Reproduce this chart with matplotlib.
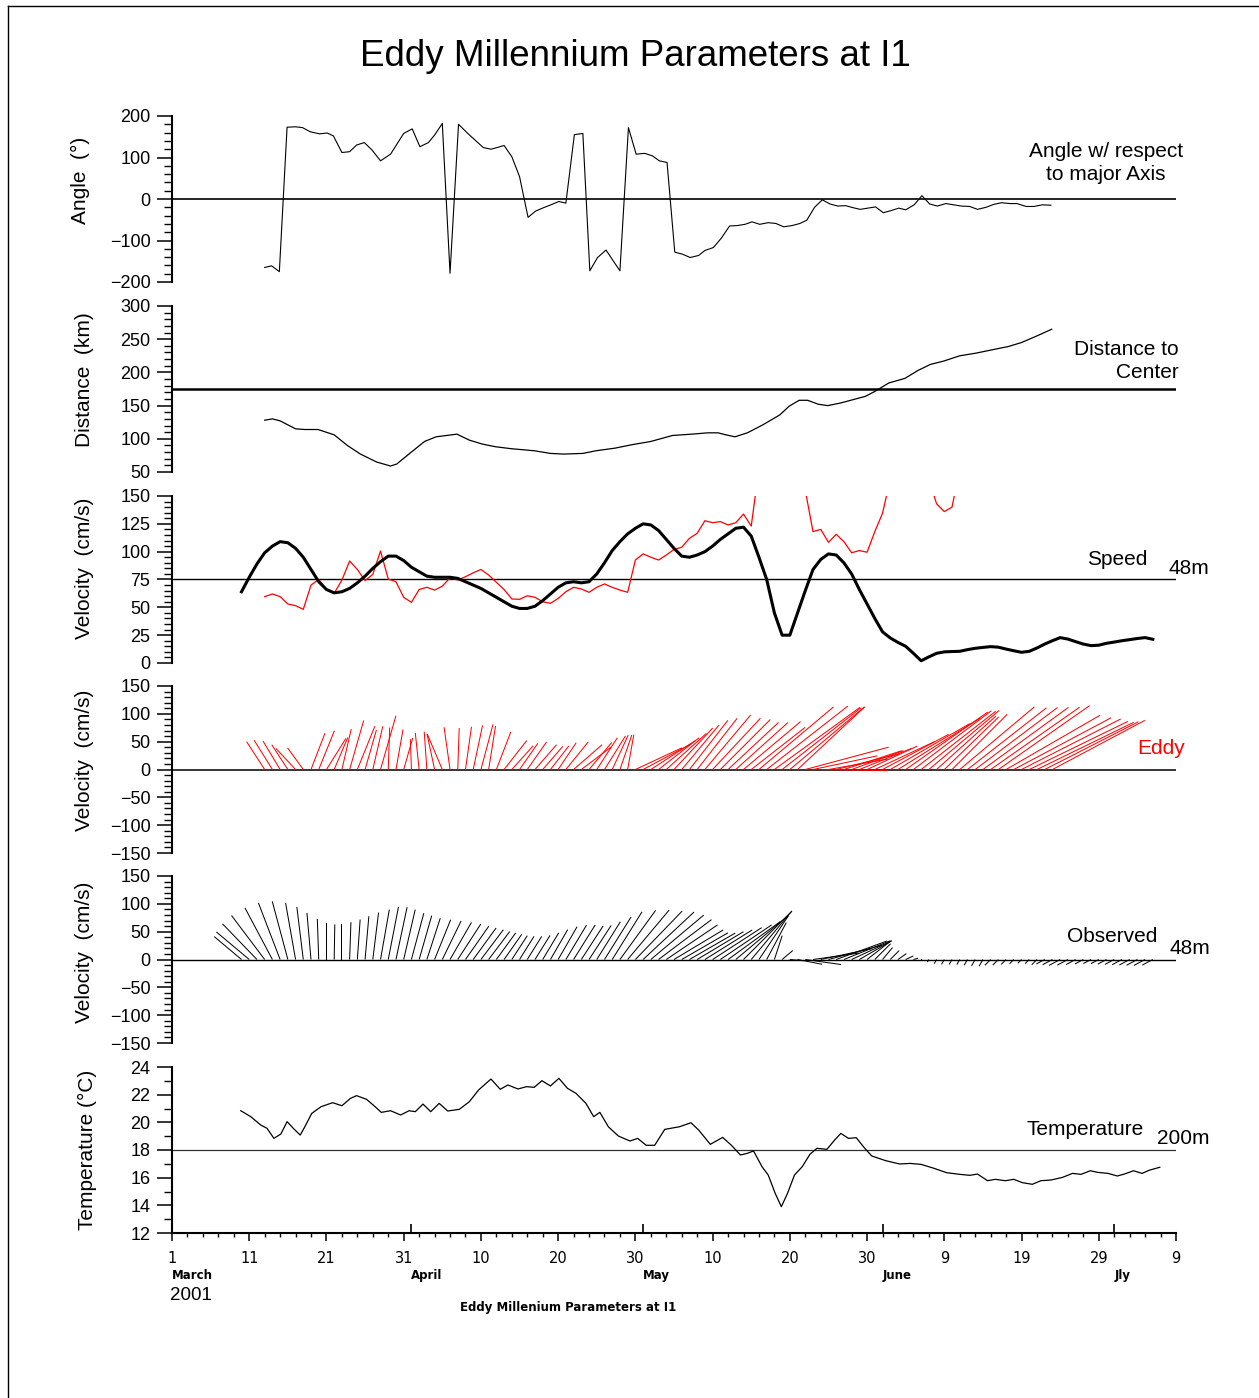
import matplotlib.pyplot as plt
import numpy as np
from matplotlib.lines import Line2D
from matplotlib.ticker import MultipleLocator

plt.rcParams['font.family'] = ['Liberation Sans', 'DejaVu Sans']

# ---- data, x = days since 1 March 2001 ----
angle_days = [12.0, 12.9, 13.9, 14.9, 16.0, 16.9, 17.9, 19.1, 20.1, 20.9, 22.0, 23.0, 23.9, 24.9,
              25.9, 27.0, 28.3, 30.0, 31.1, 32.1, 33.2, 34.0, 35.0, 36.0, 37.1, 38.3, 40.3, 41.3,
              42.1, 43.0, 44.0, 45.0, 46.1, 47.1, 48.1, 49.2, 50.1, 51.0, 52.1, 53.2, 54.1, 55.1,
              56.2, 57.2, 58.0, 59.1, 60.1, 61.2, 62.2, 63.1, 64.1, 65.1, 66.1, 67.1, 68.2, 69.0,
              70.1, 71.1, 72.2, 73.2, 74.2, 75.1, 76.1, 77.2, 78.2, 79.2, 80.3, 81.3, 82.2, 83.2,
              84.2, 85.2, 86.2, 87.2, 88.2, 89.1, 90.1, 91.1, 92.1, 93.1, 94.1, 95.0, 96.1, 97.1,
              98.1, 99.1, 100.2, 101.2, 102.2, 103.3, 104.3, 105.4, 106.4, 107.4, 108.5, 109.4,
              110.6, 111.6, 112.7, 113.8]
angle_deg = [-165, -161, -175, 173, 174, 172, 162, 157, 159, 152, 112, 114, 130, 136,
             118, 92, 108, 158, 169, 126, 136, 154, 182, -179, 180, 158, 124, 120,
             124, 129, 102, 54, -44, -29, -21, -13, -6, -10, 155, 158, -173, -141,
             -123, -151, -173, 172, 108, 110, 104, 92, 88, -128, -133, -141, -136, -124,
             -117, -95, -65, -64, -61, -55, -61, -57, -59, -67, -64, -59, -51, -20,
             -2, -12, -17, -16, -21, -25, -22, -19, -33, -28, -22, -26, -14, 8,
             -12, -17, -11, -14, -17, -18, -25, -20, -13, -9, -11, -11,
             -18, -18, -14, -15]

dist_days = [12.0, 13.0, 14.0, 16.0, 17.2, 18.9, 21.0, 22.7, 24.4, 26.5, 28.3, 29.1, 31.1, 32.7,
             34.2, 36.9, 38.5, 40.2, 41.9, 44.0, 46.9, 49.0, 50.7, 53.2, 54.9, 57.4, 59.5, 62.0,
             64.8, 67.3, 69.4, 70.7, 71.7, 72.9, 74.5, 76.5, 78.7, 79.9, 81.2, 82.3, 83.7, 84.9,
             86.6, 88.2, 89.8, 91.1, 92.8, 94.9, 96.6, 98.2, 99.9, 102.0, 104.1, 106.6, 108.3,
             110.0, 112.0, 113.9]
dist_km = [128, 130, 127, 115, 114, 114, 106, 90, 77, 65, 59, 62, 81, 96,
           103, 107, 98, 92, 88, 85, 82, 78, 77, 78, 82, 86, 91, 96,
           105, 107, 109, 109, 106, 103, 109, 121, 136, 149, 158, 158, 152, 150,
           154, 159, 164, 172, 184, 191, 203, 212, 217, 225, 229, 235, 239,
           245, 255, 265]

# eddy (model) velocity, daily, days 12..114
eddy_days = list(range(12, 115))
eddy_speed = [59.6, 62, 59.6, 53, 51.5, 48.2, 70, 75, 66, 62.6,
              74.5, 91.6, 84, 74, 79.6, 100.6, 75.4, 73, 59, 54.5,
              66, 68, 65.5, 69, 76.6, 74.5, 77.5, 81, 84, 79,
              72.5, 66, 57.5, 57.2, 60.4, 59, 55, 53.6, 58, 64,
              68, 66.5, 63.5, 68, 71, 68, 65.5, 63.5, 92.5, 98,
              95, 92.5, 97, 102, 104, 112, 116.5, 127.8, 126, 127,
              124, 126, 133.8, 123, 175, 185, 190, 180, 175, 165,
              155, 118, 120, 108.4, 115.6, 109, 99, 101, 99.5, 118,
              134.5, 165, 175, 180, 175, 170, 165, 143, 136, 140,
              175, 180, 185, 190, 195, 200, 195, 198, 200, 197,
              193, 189, 188]
eddy_dir = [123, 122, 121, 123, 133, 126, 69, 68, 58, 67,
            77, 74, 68, 74, 77, 74, 88, 80, 74, 92,
            96, 94, 102, 113, 98, 88, 82, 78, 75, 81,
            69, 52, 48, 55, 55, 49, 49, 52, 56, 51,
            41, 37, 50, 57, 58, 65, 71, 80, 25, 28,
            33, 38, 42, 47, 50, 52, 52, 50, 47, 45,
            43, 42, 40, 38, 40, 38, 36, 38, 40, 43,
            15, 12, -1, 10, 14, 18, 20, 22, 25, 25,
            28, 30, 32, 35, 37, 38, 40, 42, 44, 45,
            40, 38, 37, 36, 35, 35, 30, 28, 27, 26,
            26, 27, 28]

# observed velocity at 48 m, daily, days 9..127
obs_days = list(range(9, 128))
obs_speed = [64, 77, 89, 99, 105, 109, 108, 103, 95, 84,
             73, 66, 63, 64, 67, 72, 78, 85, 91, 96,
             96, 92, 86, 82, 78, 77, 77, 77, 76, 73,
             70, 67, 63, 59, 55, 51, 49, 49, 51, 56,
             62, 68, 72, 73, 72, 73, 80, 90, 101, 109,
             116, 121, 125, 124, 119, 111, 103, 96, 95, 97,
             100, 105, 111, 116, 121, 122, 114, 95, 75, 45,
             25, 25, 45, 65, 84, 93, 98, 97, 90, 80,
             66, 53, 40, 28, 22.5, 18.5, 15, 8.7, 2, 5.5,
             8.7, 10, 10.3, 10.5, 12, 13.2, 14, 14.7, 14.2, 12.5,
             11, 9.6, 10.5, 13.5, 17, 20, 22.8, 21.5, 19.2, 17,
             15.6, 16, 17.7, 18.8, 20, 21, 22, 22.8, 21.3]
obs_dir = [140, 140, 134, 127, 118, 111, 105, 100, 97, 95,
           92, 90, 89, 90, 88, 86, 85, 83, 80, 79,
           78, 77, 75, 74, 72, 68, 64, 60, 57, 55,
           54, 53, 53, 54, 55, 57, 58, 58, 58, 59,
           60, 60, 59, 58, 57, 57, 58, 58, 58, 54,
           50, 46, 43, 40, 37, 34, 31, 30, 30, 31,
           32, 33, 34, 36, 40, 45, 50, 56, 62, 72,
           40, -5, -11, -8, 8, 12, 15, 20, 22, 25,
           30, 38, 45, 50, 45, 35, 25, 15, 0, 240,
           240, 240, 240, 240, 240, 240, 240, 225, 225, 225,
           225, 225, 225, 225, 208, 208, 208, 208, 208, 208,
           208, 208, 208, 208, 208, 208, 208, 208, 208]

temp_days = [8.9, 10.2, 11.5, 12.3, 13.2, 14.1, 14.9, 15.7, 16.6, 17.2, 18.1, 19.3, 20.8, 22.0,
             23.1, 23.9, 25.2, 26.3, 27.1, 28.3, 29.6, 30.7, 31.5, 32.5, 33.5, 34.6, 35.7, 37.2,
             38.5, 39.7, 41.3, 42.5, 43.5, 44.8, 45.9, 46.9, 47.9, 49.0, 50.1, 51.2, 52.3, 53.6,
             54.6, 55.4, 56.5, 57.8, 59.3, 60.3, 61.4, 62.5, 63.8, 65.7, 67.2, 68.2, 69.7, 71.3,
             72.4, 73.6, 74.5, 75.3, 76.4, 77.2, 78.1, 78.9, 79.7, 80.6, 81.6, 82.6, 83.5, 84.8,
             85.8, 86.6, 87.6, 88.6, 89.6, 90.6, 92.4, 94.2, 95.6, 97.0, 98.7, 100.3, 102.0,
             103.3, 104.3, 105.6, 106.6, 107.9, 109.0, 110.1, 111.4, 112.5, 113.8, 115.3, 116.6,
             117.7, 118.9, 119.9, 121.2, 122.4, 123.3, 124.5, 125.6, 126.6, 127.9]
temp_c = [20.84, 20.41, 19.8, 19.57, 18.84, 19.16, 20.05, 19.57, 19.08, 19.68, 20.65, 21.13, 21.42, 21.2,
          21.73, 21.93, 21.66, 21.13, 20.72, 20.84, 20.53, 20.84, 20.77, 21.32, 20.77, 21.37, 20.82, 20.94,
          21.49, 22.34, 23.13, 22.39, 22.70, 22.41, 22.58, 22.53, 23.01, 22.63, 23.18, 22.46, 22.10, 21.37,
          20.41, 20.72, 19.68, 19.01, 18.65, 18.84, 18.34, 18.34, 19.49, 19.68, 19.97, 19.44, 18.41, 18.91,
          18.36, 17.64, 17.76, 17.93, 16.79, 16.19, 14.87, 13.9, 14.87, 16.19, 16.79, 17.69, 18.12, 18.05,
          18.72, 19.20, 18.84, 18.89, 18.19, 17.57, 17.23, 16.99, 17.03, 16.96, 16.67, 16.36, 16.24,
          16.17, 16.26, 15.78, 15.88, 15.78, 15.88, 15.64, 15.52, 15.78, 15.83, 16.02, 16.31,
          16.24, 16.50, 16.38, 16.31, 16.12, 16.26, 16.50, 16.31, 16.55, 16.75]

tick_days = [0, 10, 20, 30, 40, 50, 60, 70, 80, 90, 100, 110, 120, 130]
tick_labels = ['1', '11', '21', '31', '10', '20', '30', '10', '20', '30', '9', '19', '29', '9']
month_days = [0, 31, 61, 92, 122]
month_names = ['March', 'April', 'May', 'June', 'Jly']

# ---- figure ----
W, H = 1259, 1398
fig = plt.figure(figsize=(W / 100, H / 100), dpi=100)


def make_panel(top, bottom, ylim, major, minor):
    ax = fig.add_axes([172 / W, 1 - bottom / H, 1004 / W, (bottom - top) / H])
    ax.set_xlim(0, 130)
    ax.set_ylim(*ylim)
    for s in ['top', 'right', 'bottom']:
        ax.spines[s].set_visible(False)
    ax.spines['left'].set_linewidth(1.5)
    ax.yaxis.set_major_locator(MultipleLocator(major))
    ax.yaxis.set_minor_locator(MultipleLocator(minor))
    ax.tick_params(axis='y', which='major', direction='out', length=10.5, width=1.1,
                   labelsize=13, pad=5)
    ax.tick_params(axis='y', which='minor', direction='out', length=5.5, width=1.0)
    ax.tick_params(axis='x', which='both', bottom=False, labelbottom=False)
    return ax


def sticks(ax, days, speed, direction, color):
    sp = np.array(speed, dtype=float)
    th = np.radians(direction)
    u = sp * np.cos(th)
    v = sp * np.sin(th)
    ax.quiver(days, np.zeros(len(days)), u, v, color=color, angles='uv',
              scale_units='y', scale=1, units='dots', width=1.0,
              headwidth=0, headlength=0, headaxislength=0, zorder=3)


# Angle panel
ax1 = make_panel(116, 282, (-200, 200), 100, 20)
ax1.axhline(0, color='black', lw=1.2)
ax1.plot(angle_days, angle_deg, color='black', lw=0.8)
ax1.text(120.9, 87, 'Angle w/ respect\nto major Axis', ha='center', va='center',
         fontsize=15, multialignment='center', linespacing=1.25)

# Distance panel
ax2 = make_panel(306, 472, (50, 300), 50, 10)
ax2.axhline(175, color='black', lw=1.8)
ax2.plot(dist_days, dist_km, color='black', lw=0.9)
ax2.text(130.4, 217, 'Distance to\nCenter', ha='right', va='center',
         fontsize=15, multialignment='right', linespacing=1.25, clip_on=False)

# Speed panel
ax3 = make_panel(496, 663, (0, 150), 25, 5)
ax3.axhline(75, color='black', lw=1.0)
ax3.plot(eddy_days, eddy_speed, color='red', lw=0.9)
ax3.plot(obs_days, obs_speed, color='black', lw=2.2)
ax3.text(122.4, 93, 'Speed', ha='center', va='center', fontsize=15)
ax3.text(129, 76, '48m', ha='left', va='bottom', fontsize=15, clip_on=False)

# Eddy velocity sticks
ax4 = make_panel(686, 853, (-150, 150), 50, 10)
ax4.axhline(0, color='black', lw=1.1)
sticks(ax4, eddy_days, eddy_speed, eddy_dir, 'red')
ax4.text(128.1, 37, 'Eddy', ha='center', va='center', fontsize=15, color='red', clip_on=False)

# Observed velocity sticks
ax5 = make_panel(876, 1043, (-150, 150), 50, 10)
ax5.axhline(0, color='black', lw=1.0)
sticks(ax5, obs_days, obs_speed, obs_dir, 'black')
ax5.text(121.7, 42, 'Observed', ha='center', va='center', fontsize=15)
ax5.text(129.2, 2, '48m', ha='left', va='bottom', fontsize=15, clip_on=False)

# Temperature panel
ax6 = make_panel(1067, 1233, (12, 24), 2, 1)
ax6.axhline(18, color='#333333', lw=0.9)
ax6.plot(temp_days, temp_c, color='black', lw=0.9)
ax6.text(118.2, 19.5, 'Temperature', ha='center', va='center', fontsize=15)
ax6.text(127.5, 18.15, '200m', ha='left', va='bottom', fontsize=15, clip_on=False)
ax6.spines['bottom'].set_visible(True)
ax6.spines['bottom'].set_linewidth(1.5)
ax6.set_xticks(tick_days)
ax6.set_xticklabels(tick_labels, fontfamily='DejaVu Sans', fontsize=10.5)
ax6.xaxis.set_minor_locator(MultipleLocator(2))
ax6.tick_params(axis='x', which='major', bottom=True, labelbottom=True,
                direction='out', length=6, width=1.1, pad=7)
ax6.tick_params(axis='x', which='minor', bottom=True, direction='out', length=3.2, width=1.0)
ax6.vlines(month_days[1:], 12, 12.65, color='black', lw=1.2)
for d, name in zip(month_days, month_names):
    ax6.text(d, 8.95, name, ha='left', va='center', fontsize=8.5, fontweight='bold',
             fontfamily='DejaVu Sans', clip_on=False)

# Y labels
ylabels = [('Angle  (°)', 80, 180), ('Distance  (km)', 85, 380),
           ('Velocity  (cm/s)', 85, 568), ('Velocity  (cm/s)', 85, 760),
           ('Velocity  (cm/s)', 85, 952), ('Temperature (°C)', 87, 1150)]
for lab, px, py in ylabels:
    fig.text(px / W, 1 - py / H, lab, rotation=90, ha='center', va='center', fontsize=15)

# Titles and captions
fig.text(635 / W, 1 - 56 / H, 'Eddy Millennium Parameters at I1', ha='center', va='center',
         fontsize=26.5)
fig.text(170 / W, 1 - 1295 / H, '2001', ha='left', va='center', fontsize=13.5)
fig.text(568 / W, 1 - 1308 / H, 'Eddy Millenium Parameters at I1', ha='center', va='center',
         fontsize=8.5, fontweight='bold', family='DejaVu Sans')

# page border (top and left)
fig.add_artist(Line2D([8 / W, 8 / W], [0, 1 - 6 / H], color='black', lw=1.0))
fig.add_artist(Line2D([8 / W, 1], [1 - 6 / H, 1 - 6 / H], color='black', lw=1.0))

fig.savefig('out.png', dpi=100)
